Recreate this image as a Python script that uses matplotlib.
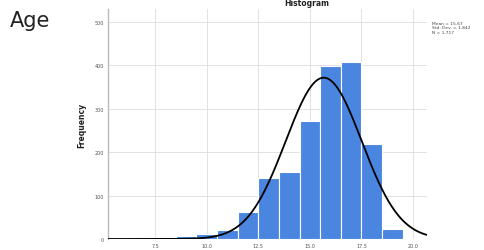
import numpy as np
import matplotlib
matplotlib.use("Agg")
import matplotlib.pyplot as plt

bin_left = [8.5, 9.5, 10.5, 11.5, 12.5, 13.5, 14.5, 15.5, 16.5, 17.5, 18.5]
counts = [6, 11, 21, 62, 140, 154, 273, 399, 409, 220, 22]
bin_width = 1.0
mean_val = 15.67
std_val = 1.842
n_val = 1717
x_ticks = [7.5, 10.0, 12.5, 15.0, 17.5, 20.0]
y_ticks = [0, 100, 200, 300, 400, 500]

fig = plt.figure(figsize=(4.84, 2.51), dpi=100)
ax = fig.add_axes([0.2231, 0.0438, 0.659, 0.916])

ax.bar(bin_left, counts, width=bin_width, align="edge", color="#4a86e0",
       edgecolor="white", linewidth=0.8, zorder=2)

xlim = (5.22, 20.67)
xs = np.linspace(xlim[0], xlim[1], 400)
pdf = n_val * bin_width / (std_val * np.sqrt(2 * np.pi)) * np.exp(-0.5 * ((xs - mean_val) / std_val) ** 2)
ax.plot(xs, pdf, color="black", linewidth=1.3, zorder=3)

ax.set_xlim(*xlim)
ax.set_ylim(0, 530)
ax.set_xticks(x_ticks)
ax.set_xticklabels([f"{t:.1f}" for t in x_ticks])
ax.set_yticks(y_ticks)
ax.tick_params(axis="both", labelsize=3.5, colors="#555555", length=0, pad=3)
ax.grid(True, color="#dddddd", linewidth=0.6, zorder=0)
ax.set_axisbelow(True)
for s in ["top", "right", "bottom"]:
    ax.spines[s].set_visible(False)
ax.spines["left"].set_color("#bbbbbb")
ax.spines["left"].set_linewidth(1.0)

ax.set_ylabel("Frequency", fontsize=5.5, fontweight="bold", color="#222222", labelpad=6)

fig.text(307 / 484, 1 - 4 / 251, "Histogram", fontsize=5.5, fontweight="bold",
         ha="center", va="center", color="#222222")
fig.text(10 / 484, 1 - 21 / 251, "Age", fontsize=15, ha="left", va="center", color="#222222")
fig.text(432 / 484, 1 - 22 / 251,
         f"Mean = {mean_val:.2f}\nStd. Dev. = {std_val:.3f}\nN = {n_val:,}",
         fontsize=3.2, ha="left", va="top", color="#444444", linespacing=1.1)

fig.savefig("out.png", dpi=100)
